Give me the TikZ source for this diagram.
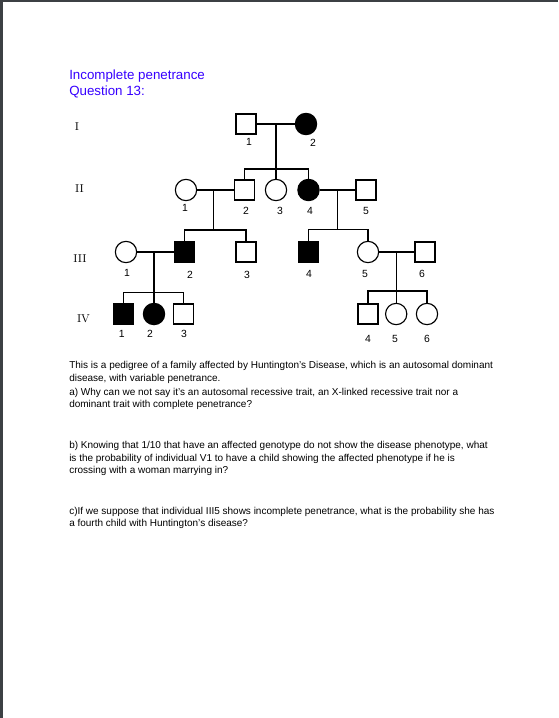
\documentclass[tikz,border=0pt]{standalone}
\usepackage{fontspec}
\newfontfamily\arial{Liberation Sans}
\definecolor{titleblue}{RGB}{55,0,255}
\definecolor{edgegray}{RGB}{60,64,68}
\begin{document}
\begin{tikzpicture}[x=0.75pt,y=-0.75pt,
  pl/.style={line width=0.85pt,draw=black},
  male/.style={draw,rectangle,minimum size=15pt,inner sep=0pt,line width=0.85pt},
  female/.style={draw,circle,minimum size=16pt,inner sep=0pt,line width=0.85pt},
  aff/.style={fill=black},
  num/.style={font=\arial\fontsize{7.8}{8}\selectfont,inner sep=0pt},
  gen/.style={font=\fontsize{8.5}{9}\selectfont,inner sep=0pt},
  body/.style={font=\arial\fontsize{7.5}{9}\selectfont,anchor=base west,inner sep=0pt},
  ttl/.style={font=\arial\fontsize{10}{12}\selectfont,text=titleblue,anchor=base west,inner sep=0pt}]
\useasboundingbox (0,0) rectangle (558,718);
\fill[white] (0,0) rectangle (558,718);
\fill[edgegray] (0,0) rectangle (558,2);
\fill[edgegray] (0,0) rectangle (3,718);

% titles
\node[ttl] (t1) at (69,79) {Incomplete penetrance};
\node[ttl] (t2) at (69,95.7) {Question 13:};

% generation labels
\node[gen] (gI) at (77,127) {I};
\node[gen] (gII) at (79.5,188.5) {II};
\node[gen] (gIII) at (80,258.5) {III};
\node[gen] (gIV) at (83.5,318.5) {IV};

% generation I
\node[male] (I1) at (246,124) {};
\node[female,aff] (I2) at (306,124) {};
% generation II
\node[female] (II1) at (186,190) {};
\node[male] (II2) at (244.5,190) {};
\node[female] (II3) at (276,190) {};
\node[female,aff] (II4) at (308.5,190) {};
\node[male] (II5) at (366,190) {};
% generation III
\node[female] (III1) at (126,252) {};
\node[male,aff] (III2) at (184.5,252) {};
\node[male] (III3) at (246,252) {};
\node[male,aff] (III4) at (308.8,252) {};
\node[female] (III5) at (368,252) {};
\node[male] (III6) at (425,252) {};
% generation IV
\node[male,aff] (IV1) at (123.7,314) {};
\node[female,aff] (IV2) at (154,314) {};
\node[male] (IV3) at (183.7,314) {};
\node[male] (IV4) at (368,314) {};
\node[female] (IV5) at (396.2,314) {};
\node[female] (IV6) at (427,314) {};

% number labels
\node[num] (nI1) at (249,141.5) {1};
\node[num] (nI2) at (313,143) {2};
\node[num] (nII1) at (185,208) {1};
\node[num] (nII2) at (246,211) {2};
\node[num] (nII3) at (280,211) {3};
\node[num] (nII4) at (310,211) {4};
\node[num] (nII5) at (366,211) {5};
\node[num] (nIII1) at (127,272.5) {1};
\node[num] (nIII2) at (190,275) {2};
\node[num] (nIII3) at (247,275) {3};
\node[num] (nIII4) at (309,273.5) {4};
\node[num] (nIII5) at (365,273.5) {5};
\node[num] (nIII6) at (422,273.5) {6};
\node[num] (nIV1) at (121.7,334) {1};
\node[num] (nIV2) at (150,334) {2};
\node[num] (nIV3) at (184,334) {3};
\node[num] (nIV4) at (368,339) {4};
\node[num] (nIV5) at (395,339) {5};
\node[num] (nIV6) at (427,339) {6};

% connectors
\coordinate (mI) at (276,124);
\coordinate (sI) at (276,169);
\draw[pl] (I1) -- (I2);
\draw[pl] (mI) -- (sI);
\draw[pl] (II2.north) |- (sI) -| (II4.north);
\draw[pl] (sI) -- (II3.north);

\coordinate (mIIa) at (213.3,190);
\coordinate (sIIa) at (213.3,230);
\draw[pl] (II1) -- (II2);
\draw[pl] (mIIa) -- (sIIa);
\draw[pl] (III2.north) |- (sIIa) -| (III3.north);

\coordinate (mIIb) at (337.7,190);
\coordinate (sIIb) at (337.7,229.5);
\draw[pl] (II4) -- (II5);
\draw[pl] (mIIb) -- (sIIb);
\draw[pl] (III4.north) |- (sIIb) -| (III5.north);

\coordinate (mIIIa) at (154,252);
\coordinate (sIIIa) at (154,292.5);
\draw[pl] (III1) -- (III2);
\draw[pl] (mIIIa) -- (sIIIa);
\draw[pl] (IV1.north) |- (sIIIa) -| (IV3.north);
\draw[pl] (sIIIa) -- (IV2.north);

\coordinate (mIIIb) at (396.2,252);
\coordinate (sIIIb) at (396.2,291);
\draw[pl] (III5) -- (III6);
\draw[pl] (mIIIb) -- (sIIIb);
\draw[pl] (IV4.north) |- (sIIIb) -| (IV6.north);
\draw[pl] (sIIIb) -- (IV5.north);

% body text
\node[body] (p1) at (69,368.5) {This is a pedigree of a family affected by Huntington’s Disease, which is an autosomal dominant};
\node[body] (p2) at (69,381) {disease, with variable penetrance.};
\node[body] (p3) at (69,395) {a) Why can we not say it’s an autosomal recessive trait, an X-linked recessive trait nor a};
\node[body] (p4) at (69,407.5) {dominant trait with complete penetrance?};
\node[body] (p5) at (69,448.5) {b) Knowing that 1/10 that have an affected genotype do not show the disease phenotype, what};
\node[body] (p6) at (69,461) {is the probability of individual V1 to have a child showing the affected phenotype if he is};
\node[body] (p7) at (69,473.5) {crossing with a woman marrying in?};
\node[body] (p8) at (69,514) {c)If we suppose that individual III5 shows incomplete penetrance, what is the probability she has};
\node[body] (p9) at (69,526.5) {a fourth child with Huntington’s disease?};
\end{tikzpicture}
\end{document}
